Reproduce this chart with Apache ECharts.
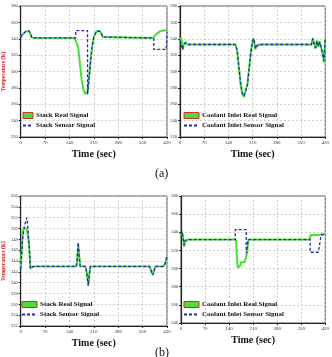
<!DOCTYPE html>
<html lang="en">
  <head>
    <meta charset="UTF-8" />
    <title>Stack and coolant temperature signals</title>
    <style>
      html, body { margin: 0; padding: 0; background: #fff; }
      #main { width: 332px; height: 357px; }
    </style>
  </head>
  <body>
    <script src="https://cdn.jsdelivr.net/npm/echarts@6/dist/echarts.min.js"></script>
    <div id="main"></div>
    <script>
      // (a) stack temperature
      const tA_stackReal = [0,5,10,15,20,24,28,32,40,155,160,165,170,175,180,185,188,192,196,200,205,210,215,220,225,228,232,236,240,380,385,390,395,400,405,410,420]
      const vA_stackReal = [342,345,347,349,350,349.5,346,341.5,341,341,339,330,310,290,278,273,272,275,290,310,330,342,347,349.5,350,349,346,342,341,341,343,346,348,349,350,350,350]
      const tA_stackSens = [0,5,10,15,20,24,28,32,40,158,158,192,192,196,200,205,210,215,220,225,228,232,236,240,382,382,418,420]
      const vA_stackSens = [342,345,347,349,350,349.5,346,341.5,341,341,350,350,272,290,310,330,342,347,349.5,350,349,346,342,341,341,327,327,348]

      // (a) coolant inlet temperature
      const tA_cool = [0,3,5,8,10,13,16,20,25,30,160,165,170,175,180,185,190,195,200,205,210,212,215,218,222,226,230,380,384,388,392,396,400,404,408,412,416,420]
      const vA_coolReal = [336,341,338,326,332,330,336,333,333,333,333,326,305,285,272,269,270,285,305,325,338,341,335,327,332,330,333,333,341,333,328,338,330,337,329,322,311,340]
      const vA_coolSens = [338,340,336,327,333,331,335,333,333,333,333,327,307,287,274,270,271,283,303,323,337,340,336,328,331,331,333,333,340,334,329,337,331,336,330,323,313,339]

      // (b) stack temperature
      const tB_stack = [0,3,6,10,14,18,21,24,28,32,36,40,160,162,165,168,171,174,178,186,190,194,197,200,204,370,375,379,382,386,390,400,410,415,420]
      const vB_stackReal = [342.5,346,349.5,350,350,350,350,347,342.6,342.8,343,343,343,344,347.2,345,343,342.8,343,343,341.8,339.6,341.5,343,343,343,342.8,341.5,341.8,343,343,343,343,343.6,344.8]
      const vB_stackSens = [342.5,345.5,348.3,350.2,351.2,352,352.3,347.5,342.6,342.9,343,343,343,344.2,347.4,345,343,342.9,343,343,341.7,339.4,341.4,343,343,343,342.8,341.4,341.8,343,343,343,343,343.6,344.9]

      // (b) coolant inlet temperature
      const tB_coolReal = [0,3,6,9,12,16,20,25,160,162,165,168,172,175,180,185,190,193,196,200,375,377,380,400,420]
      const vB_coolReal = [337,340,335,324,330,328,332,332,332,318,301,300,303,307,307,307,307,318,332,332,332,337,337,337,338]
      const tB_coolSens = [0,3,6,9,12,16,20,25,158,158,190,190,196,200,376,376,400,408,420]
      const vB_coolSens = [338,341,334,326,331,329,332,332,332,343,343,317,332,332,332,318,318,337,338]

      const yRanges = [[220, 380, 20], [220, 380, 20], [332, 356, 2], [240, 380, 20]]
      const panelNames = [
        ['Stack Real Signal', 'Stack Sensor Signal'],
        ['Coolant Inlet Real Signal', 'Coolant Inlet Sensor Signal'],
        ['Stack Real Signal ', 'Stack Sensor Signal '],
        ['Coolant Inlet Real Signal ', 'Coolant Inlet Sensor Signal ']
      ]

      const GREEN = '#4ade36'
      const BLUE = '#1f2fa8'
      const SERIF = '"Liberation Serif", "DejaVu Serif", serif'

      const zip = (t, v) => t.map((x, i) => [x, v[i]])

      const grids = [
        { left: 20, top: 6, width: 147, height: 131 },
        { left: 180, top: 6, width: 148, height: 131 },
        { left: 20, top: 196, width: 147, height: 130 },
        { left: 181, top: 196, width: 147, height: 127 }
      ].map((g) => ({ ...g, show: true, borderColor: '#555', borderWidth: 1 }))

      const xAxes = grids.map((g, i) => ({
        type: 'value',
        gridIndex: i,
        min: 0,
        max: 420,
        interval: 70,
        name: 'Time (sec)',
        nameLocation: 'middle',
        nameGap: 12,
        nameTextStyle: { fontFamily: SERIF, fontWeight: 'bold', fontSize: 10, color: '#111' },
        axisLine: { lineStyle: { color: '#222', width: 1.2 } },
        axisTick: { length: 2, lineStyle: { color: '#222' } },
        axisLabel: { fontSize: 5, margin: 3, color: '#333', fontFamily: SERIF },
        splitLine: { show: true, lineStyle: { color: '#c4c4c4', type: [2, 2], width: 0.8 } }
      }))

      const yAxes = grids.map((g, i) => ({
        type: 'value',
        gridIndex: i,
        min: yRanges[i][0],
        max: yRanges[i][1],
        interval: yRanges[i][2],
        name: i % 2 === 0 ? 'Temperature (K)' : '',
        nameLocation: 'middle',
        nameGap: 11,
        nameTextStyle: { fontFamily: SERIF, fontWeight: 'bold', fontSize: 5.5, color: '#d02020' },
        axisLine: { show: true, lineStyle: { color: '#222', width: 1.2 } },
        axisTick: { show: true, length: 2, lineStyle: { color: '#222' } },
        axisLabel: { fontSize: 4.5, margin: 3, color: '#333', fontFamily: SERIF },
        splitLine: { show: true, lineStyle: { color: '#c4c4c4', type: [2, 2], width: 0.8 } }
      }))

      const realSeries = (name, gi, t, v) => ({
        name,
        type: 'line',
        xAxisIndex: gi,
        yAxisIndex: gi,
        data: zip(t, v),
        symbol: 'none',
        lineStyle: { color: GREEN, width: 2 },
        itemStyle: { color: GREEN },
        z: 2
      })
      const sensorSeries = (name, gi, t, v) => ({
        name,
        type: 'line',
        xAxisIndex: gi,
        yAxisIndex: gi,
        data: zip(t, v),
        symbol: 'none',
        lineStyle: { color: BLUE, width: 1.3, type: [3, 2] },
        itemStyle: { color: BLUE },
        z: 3
      })

      const series = [
        realSeries(panelNames[0][0], 0, tA_stackReal, vA_stackReal),
        sensorSeries(panelNames[0][1], 0, tA_stackSens, vA_stackSens),
        realSeries(panelNames[1][0], 1, tA_cool, vA_coolReal),
        sensorSeries(panelNames[1][1], 1, tA_cool, vA_coolSens),
        realSeries(panelNames[2][0], 2, tB_stack, vB_stackReal),
        sensorSeries(panelNames[2][1], 2, tB_stack, vB_stackSens),
        realSeries(panelNames[3][0], 3, tB_coolReal, vB_coolReal),
        sensorSeries(panelNames[3][1], 3, tB_coolSens, vB_coolSens)
      ]

      const legendPos = [[22, 112], [183, 112], [21, 301], [183, 301]]
      const legends = panelNames.map((names, i) => ({
        orient: 'vertical',
        left: legendPos[i][0],
        top: legendPos[i][1],
        padding: 0,
        itemGap: 3,
        itemWidth: i === 0 ? 10 : 15,
        itemHeight: 6,
        selectedMode: false,
        textStyle: { fontFamily: SERIF, fontWeight: 'bold', fontSize: 7, color: '#111', padding: [0, 0, 0, -2] },
        data: [
          { name: names[0], icon: 'rect', itemStyle: { color: GREEN, borderColor: '#d03030', borderWidth: 1 } },
          { name: names[1], itemStyle: { opacity: 0 } }
        ]
      }))

      const chart = echarts.init(document.getElementById('main'))
      chart.setOption({
        animation: false,
        backgroundColor: '#fff',
        grid: grids,
        xAxis: xAxes,
        yAxis: yAxes,
        legend: legends,
        series,
        graphic: [
          { type: 'text', left: 155, top: 168, style: { text: '(a)', fontFamily: SERIF, fontSize: 12, fill: '#111' } },
          { type: 'text', left: 155, top: 347, style: { text: '(b)', fontFamily: SERIF, fontSize: 12, fill: '#111' } }
        ]
      })
    </script>
  </body>
</html>
